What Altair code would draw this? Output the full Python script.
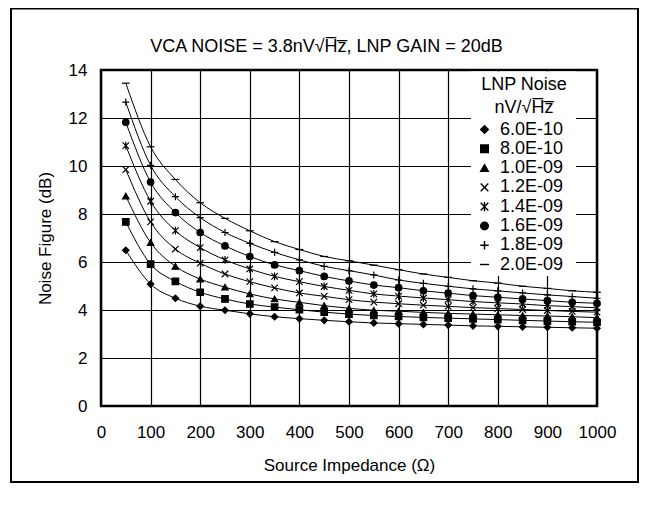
import altair as alt
import pandas as pd

# ---- data ----
source_ohm = [50, 100, 150, 200, 250, 300, 350, 400, 450, 500,
              550, 600, 650, 700, 750, 800, 850, 900, 950, 1000]
series_names = ["6.0E-10", "8.0E-10", "1.0E-09", "1.2E-09",
                "1.4E-09", "1.6E-09", "1.8E-09", "2.0E-09"]
nf_6e10 = [6.49, 5.08, 4.49, 4.16, 3.99, 3.84, 3.72, 3.64, 3.57, 3.51,
           3.46, 3.43, 3.40, 3.37, 3.34, 3.32, 3.30, 3.28, 3.26, 3.24]
nf_8e10 = [7.67, 5.91, 5.19, 4.74, 4.46, 4.25, 4.12, 4.01, 3.91, 3.83,
           3.77, 3.73, 3.69, 3.66, 3.63, 3.60, 3.57, 3.54, 3.51, 3.49]
nf_1e09 = [8.75, 6.81, 5.82, 5.29, 4.95, 4.67, 4.46, 4.32, 4.18, 4.07,
           3.99, 3.95, 3.90, 3.86, 3.83, 3.80, 3.77, 3.75, 3.72, 3.68]
nf_12e09 = [9.85, 7.67, 6.54, 5.95, 5.50, 5.18, 4.92, 4.71, 4.57, 4.43,
            4.33, 4.26, 4.20, 4.15, 4.10, 4.06, 4.02, 3.98, 3.94, 3.91]
nf_14e09 = [10.85, 8.53, 7.31, 6.60, 6.09, 5.71, 5.40, 5.18, 4.98, 4.82,
            4.67, 4.58, 4.50, 4.43, 4.35, 4.30, 4.25, 4.18, 4.14, 4.09]
nf_16e09 = [11.82, 9.33, 8.06, 7.23, 6.67, 6.23, 5.88, 5.64, 5.40, 5.21,
            5.04, 4.93, 4.80, 4.70, 4.60, 4.53, 4.46, 4.39, 4.32, 4.28]
nf_18e09 = [12.66, 10.03, 8.72, 7.85, 7.23, 6.78, 6.40, 6.09, 5.82, 5.64,
            5.46, 5.25, 5.11, 4.99, 4.88, 4.80, 4.71, 4.63, 4.56, 4.49]
nf_2e09 = [13.45, 10.80, 9.44, 8.47, 7.82, 7.30, 6.85, 6.52, 6.23, 6.05,
           5.87, 5.68, 5.50, 5.36, 5.22, 5.12, 4.99, 4.90, 4.80, 4.74]
all_series = [nf_6e10, nf_8e10, nf_1e09, nf_12e09, nf_14e09, nf_16e09, nf_18e09, nf_2e09]

x_ticks = list(range(0, 1001, 100))
y_ticks = list(range(0, 15, 2))

TITLE = "VCA NOISE = 3.8nV\u221aH\u0305z\u0305, LNP GAIN = 20dB"
LEGEND_TITLE = ["LNP Noise", "nV/\u221aH\u0305z\u0305"]
X_TITLE = "Source Impedance (\u03a9)"
Y_TITLE = "Noise Figure (dB)"

rows = []
for name, vals in zip(series_names, all_series):
    for xv, yv in zip(source_ohm, vals):
        rows.append({"R": xv, "NF": yv, "series": name})
df = pd.DataFrame(rows)
legend_df = pd.DataFrame({"series": series_names, "row": list(range(len(series_names)))})

# ---- styling ----
FONT = "Liberation Sans"
FS = 17
LFS = 18
X_PATH = "M-1,-1L1,1M-1,1L1,-1"
AST_PATH = "M-1,-1L1,1M-1,1L1,-1M0,-1.2L0,1.2"
PLUS_PATH = "M-1.1,0L1.1,0M0,-1.1L0,1.1"
DASH_PATH = "M-1.2,0L1.2,0"
shape_range = ["diamond", "square", "triangle-up", X_PATH, AST_PATH, "circle", PLUS_PATH, DASH_PATH]
shape_scale = alt.Scale(domain=series_names, range=shape_range)

W, H = 496, 336
xs = alt.Scale(domain=[0, 1000], nice=False, zero=False)
ys = alt.Scale(domain=[0, 14], nice=False)
legend_rows = alt.Scale(domain=[0, len(series_names) - 1], range=[59.5, 194.5], nice=False, zero=False)

xaxis = alt.Axis(values=x_ticks, format="d", grid=True, gridColor="black", gridWidth=1.2,
                 domain=False, ticks=False, labelFontSize=FS, labelFont=FONT,
                 labelColor="black", labelPadding=18, labelFlush=False, title=X_TITLE,
                 titleFont=FONT, titleFontSize=FS, titleFontWeight="normal",
                 titleColor="black", titleX=248, titleY=59, titleBaseline="middle",
                 titleAlign="center")
yaxis = alt.Axis(values=y_ticks, grid=True, gridColor="black", gridWidth=1.2, domain=False,
                 ticks=False, labelFontSize=FS, labelFont=FONT, labelColor="black",
                 labelPadding=14, labelFlush=False, title=Y_TITLE, titleFont=FONT,
                 titleFontSize=FS, titleFontWeight="normal", titleColor="black",
                 titleX=-56, titleY=168, titleBaseline="middle", titleAlign="center",
                 titleAngle=270)

one = pd.DataFrame({"t": [TITLE]})

legend_bg = alt.Chart(one).mark_rect(color="white").encode(
    x=alt.value(370), x2=alt.value(475), y=alt.value(1.5), y2=alt.value(206))

lines = alt.Chart(df).mark_line(color="black", strokeWidth=1, interpolate="monotone").encode(
    x=alt.X("R:Q", scale=xs, axis=xaxis),
    y=alt.Y("NF:Q", scale=ys, axis=yaxis),
    detail="series:N")

points = alt.Chart(df).mark_point(filled=True, color="black", stroke="black",
                                  strokeWidth=1.2, size=42, opacity=1).encode(
    x=alt.X("R:Q", scale=xs),
    y=alt.Y("NF:Q", scale=ys, axis=None),
    shape=alt.Shape("series:N", scale=shape_scale, legend=None))

leg_symbols = alt.Chart(legend_df).mark_point(filled=True, color="black", stroke="black",
                                              strokeWidth=1.4, size=58, opacity=1).encode(
    x=alt.value(383.5),
    y=alt.Y("row:Q", scale=legend_rows, axis=None),
    shape=alt.Shape("series:N", scale=shape_scale, legend=None))

leg_labels = alt.Chart(legend_df).mark_text(font=FONT, fontSize=LFS, color="black",
                                            align="left", baseline="middle").encode(
    x=alt.value(399),
    y=alt.Y("row:Q", scale=legend_rows, axis=None),
    text="series:N")

leg_title1 = alt.Chart(pd.DataFrame({"t": [LEGEND_TITLE[0]]})).mark_text(
    font=FONT, fontSize=LFS, color="black", align="center", baseline="middle").encode(
    x=alt.value(423), y=alt.value(15), text="t:N")
leg_title2 = alt.Chart(pd.DataFrame({"t": [LEGEND_TITLE[1]]})).mark_text(
    font=FONT, fontSize=LFS, color="black", align="center", baseline="middle").encode(
    x=alt.value(423), y=alt.value(38), text="t:N")

title_txt = alt.Chart(one).mark_text(font=FONT, fontSize=18, color="black",
                                     align="center", baseline="alphabetic").encode(
    x=alt.value(225.5), y=alt.value(-18), text="t:N")

# outer frame (chart-area border)
frame_top = alt.Chart(one).mark_rule(color="black", strokeWidth=2).encode(
    x=alt.value(-91), x2=alt.value(538), y=alt.value(-61.5))
frame_bottom = alt.Chart(one).mark_rule(color="black", strokeWidth=2).encode(
    x=alt.value(-91), x2=alt.value(538), y=alt.value(412))
frame_left = alt.Chart(one).mark_rule(color="black", strokeWidth=2).encode(
    x=alt.value(-90), y=alt.value(-62.5), y2=alt.value(413))
frame_right = alt.Chart(one).mark_rule(color="black", strokeWidth=2).encode(
    x=alt.value(537), y=alt.value(-62.5), y2=alt.value(413))

chart = alt.layer(
    legend_bg, lines, points, leg_symbols, leg_labels, leg_title1, leg_title2,
    title_txt, frame_top, frame_bottom, frame_left, frame_right
).resolve_scale(y="independent").properties(
    width=W, height=H,
    padding={"left": 93, "top": 62, "right": 42, "bottom": 80},
    autosize=alt.AutoSizeParams(type="none"),
    background="white",
).configure_view(stroke="black", strokeWidth=2.5)

chart.save("out.html", embed_options={"renderer": "svg", "actions": False})
